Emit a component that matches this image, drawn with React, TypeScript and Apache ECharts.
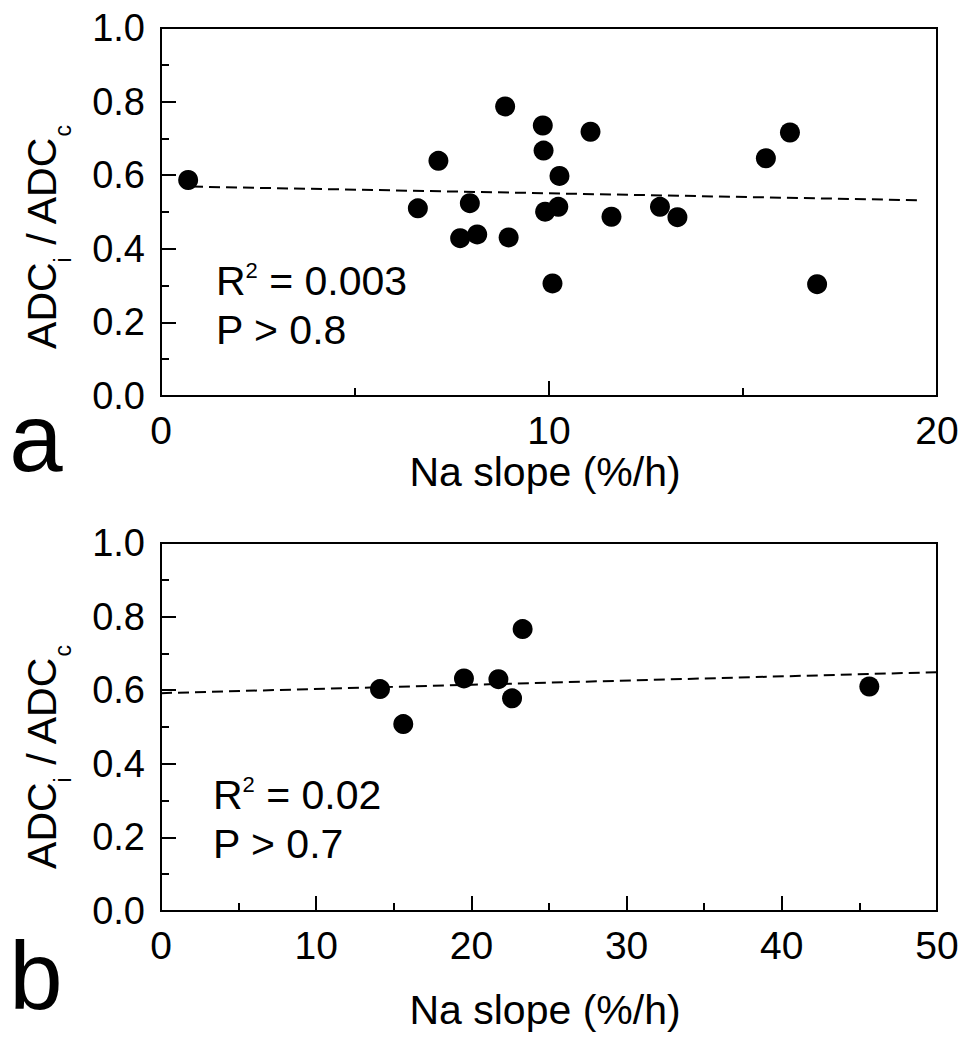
import React, { useEffect, useRef } from "react";
import * as echarts from "echarts";

// Panel a data
const slopeA = [0.70, 6.62, 7.15, 7.71, 7.96, 8.15, 8.87, 8.96, 9.84, 9.86, 9.90, 10.09, 10.24, 10.27, 11.07, 11.61, 12.86, 13.31, 15.59, 16.21, 16.91];
const ratioA = [0.587, 0.510, 0.639, 0.429, 0.524, 0.439, 0.787, 0.431, 0.735, 0.667, 0.501, 0.306, 0.514, 0.598, 0.718, 0.487, 0.514, 0.486, 0.646, 0.716, 0.304];
const fitAx = [0.8, 19.5];
const fitAy = [0.569, 0.532];

// Panel b data
const slopeB = [14.11, 15.61, 19.52, 21.74, 22.62, 23.30, 45.64];
const ratioB = [0.603, 0.508, 0.632, 0.630, 0.578, 0.766, 0.610];
const fitBx = [0, 50];
const fitBy = [0.592, 0.649];

const statsA = ["0.003", "0.8"];
const statsB = ["0.02", "0.7"];
const xTitle = "Na slope (%/h)";

const FONT = "'Liberation Sans', Arial, Helvetica, sans-serif";

export default function App() {
  const ref = useRef<HTMLDivElement>(null);
  useEffect(() => {
    document.body.style.margin = "0";
    const chart = echarts.init(ref.current!, null, { renderer: "svg" });
    const axisCommon = {
      type: "value",
      axisLine: { show: false },
      axisTick: { show: true, inside: true, length: 15, lineStyle: { color: "#000", width: 2 } },
      minorTick: { show: true, splitNumber: 2, length: 8, lineStyle: { color: "#000", width: 2 } },
      splitLine: { show: false },
      minorSplitLine: { show: false },
    };
    const xLabel = { color: "#000", fontSize: 39, fontFamily: FONT, margin: 15, showMinLabel: true, showMaxLabel: true };
    const yLabel = { color: "#000", fontSize: 38, fontFamily: FONT, margin: 16, formatter: (v: number) => v.toFixed(1), showMinLabel: true, showMaxLabel: true };
    const gridCommon = { show: true, borderColor: "#000", borderWidth: 2, backgroundColor: "transparent", containLabel: false };
    const yTitle = (y: number) => ({
      type: "text",
      x: 42,
      y,
      rotation: Math.PI / 2,
      style: {
        text: "{m|ADC}{s|i}{m| / ADC}{s|c}",
        align: "center",
        verticalAlign: "middle",
        fill: "#000",
        rich: {
          m: { fontSize: 41, fontFamily: FONT, fill: "#000", lineHeight: 64, verticalAlign: "middle" },
          s: { fontSize: 23, fontFamily: FONT, fill: "#000", verticalAlign: "bottom" },
        },
      },
    });
    const stat = (x: number, y: number, r2: string, p: string) => [
      {
        type: "text",
        x,
        y,
        style: {
          text: "{m|R}{p|2}{m| = " + r2 + "}",
          align: "left",
          verticalAlign: "middle",
          fill: "#000",
          rich: {
            m: { fontSize: 41, fontFamily: FONT, fill: "#000", lineHeight: 44 },
            p: { fontSize: 22, fontFamily: FONT, fill: "#000", verticalAlign: "top" },
          },
        },
      },
      {
        type: "text",
        x,
        y: y + 49,
        style: { text: "P > " + p, align: "left", verticalAlign: "middle", fill: "#000", fontSize: 41, fontFamily: FONT },
      },
    ];
    const option = {
      animation: false,
      backgroundColor: "#fff",
      grid: [
        { ...gridCommon, left: 161, top: 28, width: 776, height: 368 },
        { ...gridCommon, left: 161, top: 543, width: 776, height: 368 },
      ],
      xAxis: [
        { ...axisCommon, gridIndex: 0, min: 0, max: 20, interval: 10, axisLabel: xLabel },
        { ...axisCommon, gridIndex: 1, min: 0, max: 50, interval: 10, axisLabel: xLabel },
      ],
      yAxis: [
        { ...axisCommon, gridIndex: 0, min: 0, max: 1, interval: 0.2, axisLabel: yLabel },
        { ...axisCommon, gridIndex: 1, min: 0, max: 1, interval: 0.2, axisLabel: yLabel },
      ],
      series: [
        {
          type: "line",
          xAxisIndex: 0,
          yAxisIndex: 0,
          data: fitAx.map((x, i) => [x, fitAy[i]]),
          symbol: "none",
          lineStyle: { color: "#000", width: 2, type: [11, 6] },
          z: 1,
        },
        {
          type: "scatter",
          xAxisIndex: 0,
          yAxisIndex: 0,
          data: slopeA.map((x, i) => [x, ratioA[i]]),
          symbolSize: 20,
          itemStyle: { color: "#000", opacity: 1 },
          z: 2,
        },
        {
          type: "line",
          xAxisIndex: 1,
          yAxisIndex: 1,
          data: fitBx.map((x, i) => [x, fitBy[i]]),
          symbol: "none",
          lineStyle: { color: "#000", width: 2, type: [11, 6] },
          z: 1,
        },
        {
          type: "scatter",
          xAxisIndex: 1,
          yAxisIndex: 1,
          data: slopeB.map((x, i) => [x, ratioB[i]]),
          symbolSize: 20,
          itemStyle: { color: "#000", opacity: 1 },
          z: 2,
        },
      ],
      graphic: [
        yTitle(237),
        yTitle(757),
        ...stat(216, 281, statsA[0], statsA[1]),
        ...stat(213, 795, statsB[0], statsB[1]),
        { type: "text", x: 545, y: 472, style: { text: xTitle, align: "center", verticalAlign: "middle", fill: "#000", fontSize: 41, fontFamily: FONT } },
        { type: "text", x: 545, y: 1010, style: { text: xTitle, align: "center", verticalAlign: "middle", fill: "#000", fontSize: 41, fontFamily: FONT } },
        { type: "text", x: 36, y: 437, style: { text: "a", align: "center", verticalAlign: "middle", fill: "#000", fontSize: 96, fontFamily: FONT } },
        { type: "text", x: 36, y: 975, style: { text: "b", align: "center", verticalAlign: "middle", fill: "#000", fontSize: 96, fontFamily: FONT } },
      ],
    };
    chart.setOption(option as any);
    return () => chart.dispose();
  }, []);
  return <div ref={ref} style={{ width: 976, height: 1050 }} />;
}
